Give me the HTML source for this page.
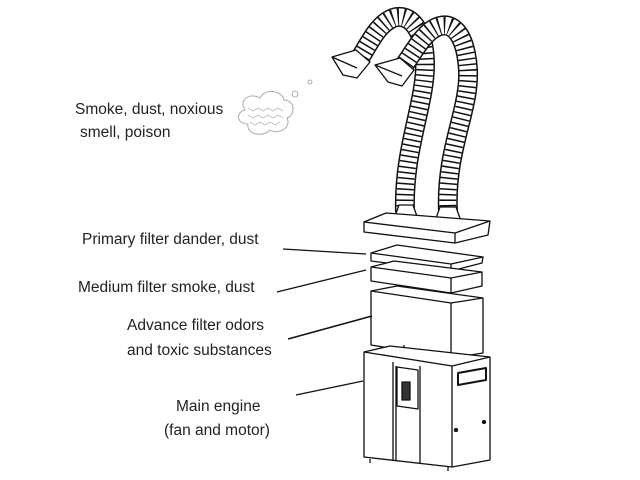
<!DOCTYPE html>
<html><head><style>
html,body{margin:0;padding:0;background:#fff;}
svg{display:block}
text{font-family:"Liberation Sans",sans-serif;font-size:15.5px;fill:#222}
</style></head><body>
<svg width="640" height="480" viewBox="0 0 640 480" xmlns="http://www.w3.org/2000/svg">
<g fill="none" stroke="#111" stroke-width="1.3" stroke-linejoin="round">
<!-- hoses -->
<g id="h1">
<path d="M405 212 C403 150 425 105 425 65 C425 30 410 12 393 18 C378 24 370 42 360 58" stroke="#111" stroke-width="20"/>
<path d="M405 212 C403 150 425 105 425 65 C425 30 410 12 393 18 C378 24 370 42 360 58" stroke="#fff" stroke-width="17"/>
<path d="M405 212 C403 150 425 105 425 65 C425 30 410 12 393 18 C378 24 370 42 360 58" stroke="#111" stroke-width="17" stroke-dasharray="1.5 4"/>
</g>
<path d="M448 212 C445 150 470 110 468 70 C466 38 455 22 440 26 C425 30 415 50 405 64" stroke="#111" stroke-width="20"/>
<path d="M448 212 C445 150 470 110 468 70 C466 38 455 22 440 26 C425 30 415 50 405 64" stroke="#fff" stroke-width="17"/>
<path d="M448 212 C445 150 470 110 468 70 C466 38 455 22 440 26 C425 30 415 50 405 64" stroke="#111" stroke-width="17" stroke-dasharray="1.5 4"/>
<!-- nozzles -->
<polygon points="332,57 356,50 370,62 357,78 343,75" fill="#fff"/>
<line x1="332" y1="57" x2="357" y2="68"/>
<polygon points="375,65 400,58 414,70 402,86 388,82" fill="#fff"/>
<line x1="375" y1="65" x2="402" y2="76"/>
<!-- bases of hoses -->
<polygon points="393,222 399,205 413,205 419,222" fill="#fff"/>
<polygon points="434,224 440,207 456,207 462,224" fill="#fff"/>
<!-- top plate -->
<polygon points="364,222 386,213 490,221 488,235 455,243 364,232" fill="#fff"/>
<polyline points="364,222 455,233 490,221"/>
<line x1="455" y1="233" x2="455" y2="243"/>
<!-- primary filter -->
<polygon points="371,253 397,245 483,257 482,263 451,271 371,261" fill="#fff"/>
<polyline points="371,253 451,264 483,257"/>
<line x1="451" y1="264" x2="451" y2="271"/>
<!-- medium filter -->
<polygon points="371,267 394,261 482,272 482,286 451,293 371,281" fill="#fff"/>
<polyline points="371,267 451,278 482,272"/>
<line x1="451" y1="278" x2="451" y2="293"/>
<!-- advance filter -->
<polygon points="371,291 397,286 483,298 483,353 451,358 371,345" fill="#fff"/>
<polyline points="371,291 451,303 483,298"/>
<line x1="451" y1="303" x2="451" y2="358"/>
<line x1="404" y1="345" x2="404" y2="352"/>
<!-- main engine -->
<polygon points="364,352 390,346 490,357 490,460 452,467 364,457" fill="#fff"/>
<polyline points="364,352 452,366 490,357"/>
<line x1="452" y1="366" x2="452" y2="467"/>
<line x1="393" y1="362" x2="393" y2="461"/>
<line x1="420" y1="366" x2="420" y2="464"/>
<line x1="396" y1="366" x2="396" y2="461"/>
<polygon points="397,367 418,370 418,409 397,406"/>
<rect x="402" y="382" width="8" height="18" fill="#333"/>
<polygon points="458,373 486,368 486,380 458,385" stroke-width="2"/>
<circle cx="456" cy="430" r="1.5" fill="#111"/>
<circle cx="484" cy="422" r="1.5" fill="#111"/>
<line x1="370" y1="459" x2="370" y2="463"/>
<line x1="448" y1="467" x2="448" y2="471"/>
<!-- leaders -->
<line x1="283" y1="249" x2="366" y2="254"/>
<line x1="277" y1="292" x2="366" y2="270"/>
<line x1="288" y1="339" x2="372" y2="316" stroke-width="1.6"/>
<line x1="296" y1="395" x2="363" y2="381"/>
<!-- cloud -->
<path d="M245 110 C238 100 250 92 260 98 C265 88 282 90 284 100 C295 100 296 115 287 118 C292 128 278 135 270 130 C262 138 246 134 248 124 C236 124 236 112 245 110 Z" stroke="#aaa" stroke-width="1"/>
<path d="M248 108 l5 3 5-3 5 3 5-3 5 3 5-3 5 3 M248 115 l5 3 5-3 5 3 5-3 5 3 5-3 5 3 M250 122 l5 3 5-3 5 3 5-3 5 3 5-3" stroke="#bbb" stroke-width="0.8"/>
<circle cx="295" cy="94" r="3" stroke="#999" stroke-width="0.8"/>
<circle cx="310" cy="82" r="2" stroke="#999" stroke-width="0.8"/>
</g>
<text x="75" y="114">Smoke, dust, noxious</text>
<text x="80" y="137">smell, poison</text>
<text x="82" y="244">Primary filter dander, dust</text>
<text x="78" y="292">Medium filter smoke, dust</text>
<text x="127" y="330">Advance filter odors</text>
<text x="127" y="355">and toxic substances</text>
<text x="176" y="411">Main engine</text>
<text x="164" y="435">(fan and motor)</text>
</svg>
</body></html>
